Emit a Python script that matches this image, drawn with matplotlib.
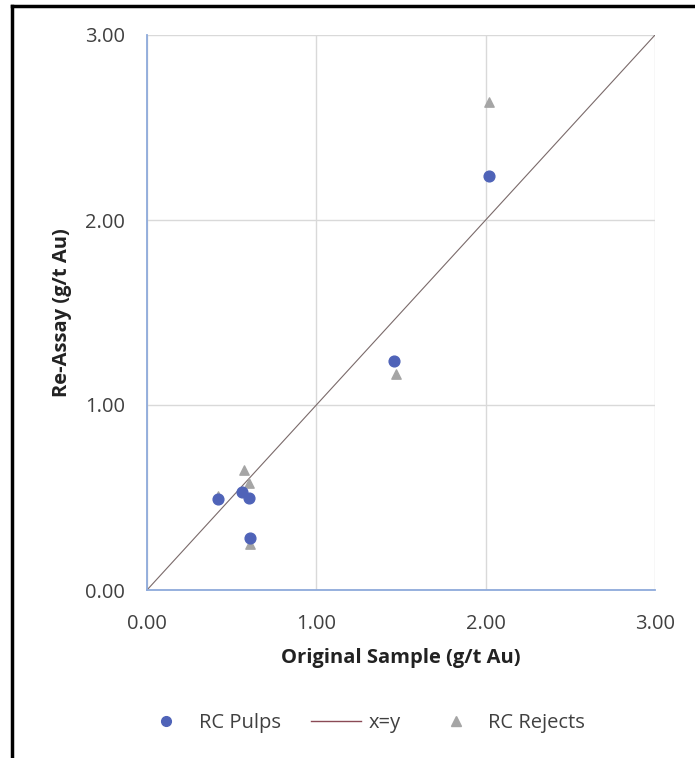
import matplotlib
matplotlib.use("Agg")
import matplotlib.pyplot as plt
from matplotlib.lines import Line2D

# Data
pulps_x = [0.42, 0.56, 0.60, 0.61, 1.46, 2.02]
pulps_y = [0.49, 0.53, 0.50, 0.28, 1.24, 2.24]
rejects_x = [0.42, 0.57, 0.60, 0.61, 1.47, 2.02]
rejects_y = [0.51, 0.65, 0.58, 0.25, 1.17, 2.64]
line_xy = [0.0, 3.0]
ticks = [0.0, 1.0, 2.0, 3.0]
tick_labels = ["0.00", "1.00", "2.00", "3.00"]

plt.rcParams['font.family'] = ['Open Sans', 'DejaVu Sans']

W, H = 695, 758
fig = plt.figure(figsize=(W / 100, H / 100), dpi=100)
fig.patch.set_facecolor("white")

left, right, top, bottom = 147, 655, 35, 590
ax = fig.add_axes([left / W, 1 - bottom / H, (right - left) / W, (bottom - top) / H])

ax.set_xlim(0, 3)
ax.set_ylim(0, 3)
ax.set_xticks(ticks)
ax.set_yticks(ticks)
ax.set_xticklabels(tick_labels)
ax.set_yticklabels(tick_labels)
ax.tick_params(length=0, labelsize=14.5, labelcolor="#404040")
ax.tick_params(axis='y', pad=16)
ax.tick_params(axis='x', pad=17)
ax.grid(True, color="#d9d9d9", linewidth=1.0)
ax.set_axisbelow(True)
for s in ["top", "right"]:
    ax.spines[s].set_visible(False)
for s in ["left", "bottom"]:
    ax.spines[s].set_color("#8eaadb")
    ax.spines[s].set_linewidth(1.3)

ax.plot(line_xy, line_xy, color="#7a6a6a", linewidth=0.8, label="x=y", zorder=2)
ax.scatter(rejects_x, rejects_y, marker="^", s=45, color="#a5a5a5", label="RC Rejects", zorder=3)
ax.scatter(pulps_x, pulps_y, marker="o", s=60, color="#4f63b8", label="RC Pulps", zorder=4)

ax.set_xlabel("Original Sample (g/t Au)", fontsize=14.5, fontweight="bold", color="#222222", labelpad=10)
ax.set_ylabel("Re-Assay (g/t Au)", fontsize=14.5, fontweight="bold", color="#222222", labelpad=9)

handles = [
    Line2D([], [], marker="o", linestyle="none", color="#4f63b8", markersize=7),
    Line2D([], [], color="#8a4a55", linewidth=1.0),
    Line2D([], [], marker="^", linestyle="none", color="#a5a5a5", markersize=7),
]
fig.legend(handles, ["RC Pulps", "x=y", "RC Rejects"], loc="center",
           bbox_to_anchor=(363 / W, 1 - 723 / H), ncol=3, frameon=False,
           fontsize=14.5, labelcolor="#404040", columnspacing=1.5,
           handlelength=2.5, handletextpad=0.35)

# Outer frame (left and top visible)
fig.add_artist(Line2D([12 / W, 12 / W], [0, 1 - 6 / H], transform=fig.transFigure, color="black", linewidth=2.5))
fig.add_artist(Line2D([12 / W, 1], [1 - 6 / H, 1 - 6 / H], transform=fig.transFigure, color="black", linewidth=2.5))

fig.savefig("out.png", dpi=100, facecolor="white")
